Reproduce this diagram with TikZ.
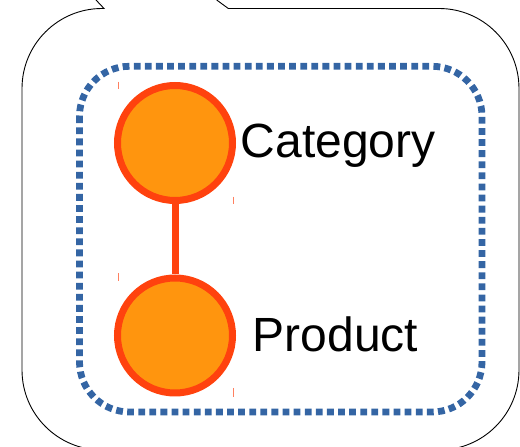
\documentclass[tikz,border=0pt]{standalone}
\usepackage{fontspec}
\setmainfont{Liberation Sans}
\definecolor{entityfill}{HTML}{FF950E}
\definecolor{entityline}{HTML}{FF420E}
\definecolor{groupblue}{HTML}{3465A4}
\definecolor{tickred}{HTML}{FF8060}
\tikzset{
  entity/.style={circle, draw=entityline, fill=entityfill, line width=7pt,
    minimum size=115pt, inner sep=0pt},
  link/.style={draw=entityline, line width=7pt},
  label/.style={anchor=base west, inner sep=0pt, font=\fontsize{48}{57}\selectfont},
  group/.style={draw=groupblue, line width=6.8pt, dash pattern=on 6.8pt off 4.3pt,
    rounded corners=50pt},
  frame/.style={draw=black, line width=0.9pt},
  tick/.style={draw=tickred, line width=0.8pt}
}
\begin{document}
\begin{tikzpicture}[x=1pt,y=1pt]
  \useasboundingbox (0,0) rectangle (520,447);
  % outer callout frame, pointer leaving through the top
  \path[frame] (216.7,447) -- (228.3,438.5) -- (439,438.5)
    arc[start angle=90,end angle=0,radius=80] -- (519,77)
    arc[start angle=0,end angle=-90,radius=80] -- (102,-3)
    arc[start angle=270,end angle=180,radius=80] -- (22,358.5)
    arc[start angle=180,end angle=90,radius=80] -- (104,438.5) -- (96,447);
  % dotted group boundary
  \path[group] (79.5,380.7) rectangle (482,35);
  % entities
  \node[entity] (cat) at (175,304) {};
  \node[entity] (prod) at (175,111.5) {};
  \draw[link] (cat) -- (prod);
  \node[label] (catlabel) at (240.5,289) {Category};
  \node[label] (prodlabel) at (252.5,95) {Product};
  % selection ticks
  \draw[tick] (118,365.3) -- (118,357.7);
  \draw[tick] (233.3,250.3) -- (233.3,242.7);
  \draw[tick] (118,173.7) -- (118,166);
  \draw[tick] (233.3,59) -- (233.3,50.3);
\end{tikzpicture}
\end{document}
